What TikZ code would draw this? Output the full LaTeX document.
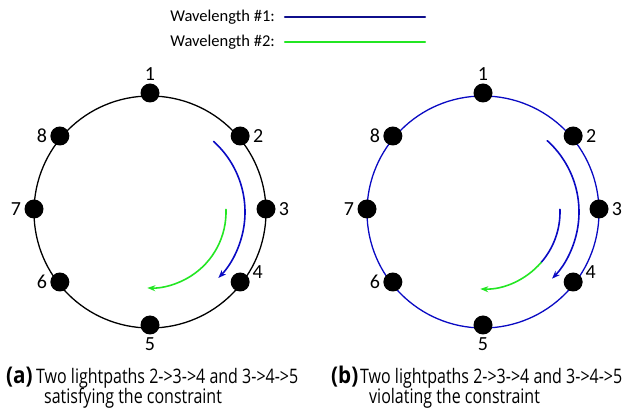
\documentclass[tikz,border=0pt]{standalone}
\usepackage{fontspec}
\setmainfont{Carlito}
\newfontfamily\capfont[FakeStretch=0.8]{Open Sans}
\newfontfamily\tagfont[FakeStretch=0.9]{Open Sans}
\usetikzlibrary{arrows.meta}
\definecolor{wlnavy}{RGB}{15,15,140}
\definecolor{wlblue}{RGB}{10,10,195}
\definecolor{wlgreen}{RGB}{35,230,35}
\tikzset{
  ringdot/.style={circle, fill=black, minimum size=19pt, inner sep=0pt},
  numlbl/.style={font=\fontsize{20}{22}\selectfont, inner sep=0pt, label distance=3pt},
  lightpath/.style={line width=1.6pt, -{Stealth[length=8pt, width=6pt]}},
  captxt/.style={inner sep=0pt, anchor=base west, font=\capfont\fontsize{20}{22}\selectfont},
  captag/.style={inner sep=0pt, anchor=base west, font=\tagfont\bfseries\fontsize{23}{25}\selectfont}
}
\begin{document}
\begin{tikzpicture}[x=1pt, y=1pt, line cap=round]
  \useasboundingbox (0,0) rectangle (625,410);
  % la leyenda
  \node[anchor=east, inner sep=0pt, font=\fontsize{16.5}{18}\selectfont] (wl1) at (275,393) {Wavelength \#1:};
  \node[anchor=east, inner sep=0pt, font=\fontsize{16.5}{18}\selectfont] (wl2) at (275,368) {Wavelength \#2:};
  \coordinate (wl1end) at (425,393);
  \coordinate (wl2end) at (425,368);
  \draw[wlnavy, line width=2.2pt] ([xshift=10pt]wl1.east) -- (wl1end);
  \draw[wlgreen, line width=2.2pt] ([xshift=10pt]wl2.east) -- (wl2end);
  % el anillo (a)
  \draw[line width=1.3pt] (150,198) circle (116);
  \foreach \ang/\num/\pos in {90/1/above, 39/2/right, 0/3/right, -39/4/15, -90/5/below, 219/6/left, 180/7/left, 141/8/left}
    \node[ringdot, label={[numlbl]\pos:\num}] (a\num) at ([shift={(\ang:116)}]150,201) {};
  \draw[lightpath, wlblue] ([shift={(48:95)}]150,198) arc[start angle=48, end angle=-44, radius=95];
  \draw[lightpath, wlgreen] ([shift={(2:76)}]150,198) arc[start angle=2, end angle=-92, radius=76];
  % el anillo (b)
  \draw[wlblue, line width=1.3pt] (483,198) circle (116);
  \foreach \ang/\num/\pos in {90/1/above, 39/2/right, 0/3/right, -39/4/15, -90/5/below, 219/6/left, 180/7/left, 141/8/left}
    \node[ringdot, label={[numlbl]\pos:\num}] (b\num) at ([shift={(\ang:116)}]483,201) {};
  \draw[lightpath, wlblue] ([shift={(48:96)}]483,198) arc[start angle=48, end angle=-44, radius=96];
  \draw[wlblue, line width=1.6pt] ([shift={(2:77)}]483,198) arc[start angle=2, end angle=-41, radius=77];
  \draw[lightpath, wlgreen] ([shift={(-41:77)}]483,198) arc[start angle=-41, end angle=-92, radius=77];
  % los textos de abajo
  \node[captag] (taga) at (6,26) {(a)};
  \node[captxt] (capa1) at (36,26) {Two lightpaths 2->3->4 and 3->4->5};
  \node[captxt] (capa2) at (44,6) {satisfying the constraint};
  \node[captag] (tagb) at (331,26) {(b)};
  \node[captxt] (capb1) at (360,26) {Two lightpaths 2->3->4 and 3->4->5};
  \node[captxt] (capb2) at (369,6) {violating the constraint};
\end{tikzpicture}
\end{document}
